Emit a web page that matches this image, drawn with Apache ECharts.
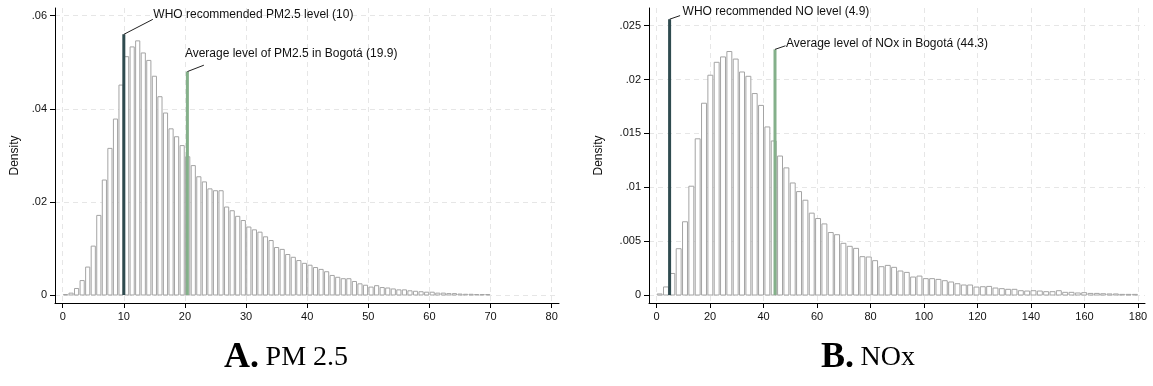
<!DOCTYPE html>
<html>
<head>
<meta charset="utf-8">
<script src="https://cdn.jsdelivr.net/npm/echarts@6/dist/echarts.min.js"></script>
<style>
  html, body { margin: 0; padding: 0; background: #fff; }
  #main { width: 1153px; height: 386px; }
</style>
</head>
<body>
<div id="main"></div>
<script>
// panel A: PM2.5, 77 bins between 0 and 70
const pmBinStart = 0;
const pmBinWidth = 70 / 77;
const pmDensity = [
  0.0001, 0.0004, 0.0014, 0.0031, 0.0060, 0.0105, 0.0171, 0.0247, 0.0315, 0.0378,
  0.0451, 0.0512, 0.0533, 0.0546, 0.0520, 0.0504, 0.0470, 0.0426, 0.0391, 0.0357,
  0.0340, 0.0321, 0.0297, 0.0278, 0.0254, 0.0243, 0.0228, 0.0224, 0.0224, 0.0189,
  0.0181, 0.0169, 0.0160, 0.0146, 0.0140, 0.0135, 0.0125, 0.0117, 0.0102, 0.0098,
  0.0087, 0.0081, 0.0074, 0.0068, 0.0064, 0.0059, 0.0055, 0.0050, 0.0042, 0.0038,
  0.0035, 0.0035, 0.0029, 0.0024, 0.0021, 0.0017, 0.0020, 0.0016, 0.0015, 0.0013,
  0.0011, 0.0011, 0.0009, 0.0008, 0.0007, 0.0006, 0.0006, 0.0004, 0.0004, 0.0003,
  0.0003, 0.0002, 0.00015, 0.00015, 0.0001, 0.0001, 0.0001
];
const pmTicksX = [0, 10, 20, 30, 40, 50, 60, 70, 80];
const pmTicksY = [0, 0.02, 0.04, 0.06];
const pmRefX = [10, 20.4];
const pmRefTop = [0.056, 0.048];
const pmRefText = ['WHO recommended PM2.5 level (10)', 'Average level of PM2.5 in Bogotá (19.9)'];

// panel B: NOx, 76 bins between 0 and 180
const noBinStart = 0;
const noBinWidth = 180 / 76;
const noDensity = [
  0.0001, 0.00075, 0.0020, 0.0043, 0.0068, 0.0101, 0.0145, 0.0178, 0.0204, 0.0216,
  0.0221, 0.0226, 0.0219, 0.0207, 0.0203, 0.0187, 0.0176, 0.0156, 0.0143, 0.0129,
  0.0118, 0.0104, 0.0096, 0.0088, 0.0076, 0.0071, 0.0066, 0.0058, 0.0056, 0.0048,
  0.00452, 0.00433, 0.00356, 0.00353, 0.00319, 0.00263, 0.00275, 0.00257, 0.00223, 0.0021,
  0.00167, 0.00176, 0.00152, 0.00152, 0.00145, 0.00133, 0.00121, 0.00105, 0.00093, 0.00093,
  0.00074, 0.00077, 0.0008, 0.00065, 0.00059, 0.00053, 0.00053, 0.0004, 0.00037, 0.0004,
  0.00037, 0.00031, 0.00031, 0.0004, 0.00025, 0.00025, 0.00019, 0.00022, 0.00015, 0.00015,
  0.00012, 0.0001, 0.0001, 0.00006, 0.00006, 0.00006
];
const noTicksX = [0, 20, 40, 60, 80, 100, 120, 140, 160, 180];
const noTicksY = [0, 0.005, 0.01, 0.015, 0.02, 0.025];
const noRefX = [4.9, 44.3];
const noRefTop = [0.0256, 0.0228];
const noRefText = ['WHO recommended NO level (4.9)', 'Average level of NOx in Bogotá (44.3)'];

const refColors = ['#2f4b4f', '#84b08a'];
const SANS = '"Liberation Sans", Arial, sans-serif';
const SERIF = '"Liberation Serif", serif';

// label placement relative to the top of each reference line (pixels)
const pmLabelPos = [{lx: 29, ly: -15, tx: 29.5, ty: -19.5}, {lx: 16.5, ly: -6.4, tx: -2.5, ty: -17.7}];
const noLabelPos = [{lx: 10.5, ly: -3.6, tx: 13, ty: -7.6}, {lx: 10.5, ly: -3.6, tx: 11, ty: -6}];

function histSeries(idx, start, width, values) {
  return {
    type: 'custom',
    xAxisIndex: idx,
    yAxisIndex: idx,
    silent: true,
    z: 2,
    data: values.map((v, i) => [start + i * width, start + (i + 1) * width, v]),
    encode: { x: [0, 1], y: 2 },
    renderItem: function (params, api) {
      const p0 = api.coord([api.value(0), api.value(2)]);
      const p1 = api.coord([api.value(1), 0]);
      return {
        type: 'rect',
        shape: { x: p0[0] + 0.7, y: p0[1], width: p1[0] - p0[0] - 1.4, height: p1[1] - p0[1] },
        style: { fill: '#fff', stroke: '#a4a4a4', lineWidth: 1 }
      };
    }
  };
}

function refSeries(idx, xs, tops, texts, pos) {
  return {
    type: 'custom',
    xAxisIndex: idx,
    yAxisIndex: idx,
    silent: true,
    z: 5,
    data: xs.map((x, i) => [x, tops[i], i]),
    renderItem: function (params, api) {
      const i = api.value(2);
      const top = api.coord([api.value(0), api.value(1)]);
      const base = api.coord([api.value(0), 0]);
      const o = pos[i];
      return {
        type: 'group',
        children: [
          { type: 'line', shape: { x1: top[0], y1: base[1], x2: top[0], y2: top[1] },
            style: { stroke: refColors[i], lineWidth: 3 } },
          { type: 'line', shape: { x1: top[0], y1: top[1], x2: top[0] + o.lx, y2: top[1] + o.ly },
            style: { stroke: '#222', lineWidth: 1 } },
          { type: 'text', x: top[0] + o.tx, y: top[1] + o.ty,
            style: { text: texts[i], fill: '#111', font: '12px ' + SANS, verticalAlign: 'middle', align: 'left' } }
        ]
      };
    }
  };
}

function yFmt(v) {
  return v === 0 ? '0' : String(+v.toFixed(3)).replace(/^0/, '');
}

function xAxis(idx, min, max, ticks) {
  return {
    type: 'value', gridIndex: idx, min: min, max: max,
    axisLine: { show: true, onZero: false, lineStyle: { color: '#000', width: 1 } },
    axisTick: { show: true, length: 5, customValues: ticks, lineStyle: { color: '#000' } },
    axisLabel: { customValues: ticks, margin: 8, color: '#111', fontSize: 11, fontFamily: SANS },
    splitLine: { show: true, lineStyle: { color: '#e6e6e6', type: [5, 4], width: 1 } }
  };
}

function yAxis(idx, min, max, ticks, gap) {
  return {
    type: 'value', gridIndex: idx, min: min, max: max,
    name: 'Density', nameLocation: 'middle', nameGap: gap,
    nameTextStyle: { color: '#111', fontSize: 12, fontFamily: SANS },
    axisLine: { show: true, onZero: false, lineStyle: { color: '#000', width: 1 } },
    axisTick: { show: true, length: 5, customValues: ticks, lineStyle: { color: '#000' } },
    axisLabel: { customValues: ticks, margin: 8, color: '#111', fontSize: 11, fontFamily: SANS, formatter: yFmt },
    splitLine: { show: true, lineStyle: { color: '#e6e6e6', type: [5, 4], width: 1 } }
  };
}

function panelTitle(x, letter, rest) {
  return {
    type: 'text', x: x, y: 358,
    style: {
      text: '{a|' + letter + '}  {b|' + rest + '}', align: 'center', verticalAlign: 'middle',
      rich: {
        a: { font: 'bold 36px ' + SERIF, fill: '#000' },
        b: { font: '28px ' + SERIF, fill: '#000' }
      }
    }
  };
}

const chart = echarts.init(document.getElementById('main'), null, { renderer: 'canvas' });
chart.setOption({
  animation: false,
  backgroundColor: '#fff',
  grid: [
    { left: 55, top: 8, width: 504, height: 295 },
    { left: 649, top: 8, width: 496, height: 295 }
  ],
  xAxis: [
    xAxis(0, -1.26, 81.2, pmTicksX),
    xAxis(1, -2.8, 182.6, noTicksX)
  ],
  yAxis: [
    yAxis(0, -0.00172, 0.06166, pmTicksY, 34),
    yAxis(1, -0.00074, 0.02664, noTicksY, 44)
  ],
  series: [
    histSeries(0, pmBinStart, pmBinWidth, pmDensity),
    histSeries(1, noBinStart, noBinWidth, noDensity),
    refSeries(0, pmRefX, pmRefTop, pmRefText, pmLabelPos),
    refSeries(1, noRefX, noRefTop, noRefText, noLabelPos)
  ],
  graphic: [
    panelTitle(286, 'A.', 'PM 2.5'),
    panelTitle(868, 'B.', 'NOx')
  ]
});
</script>
</body>
</html>
